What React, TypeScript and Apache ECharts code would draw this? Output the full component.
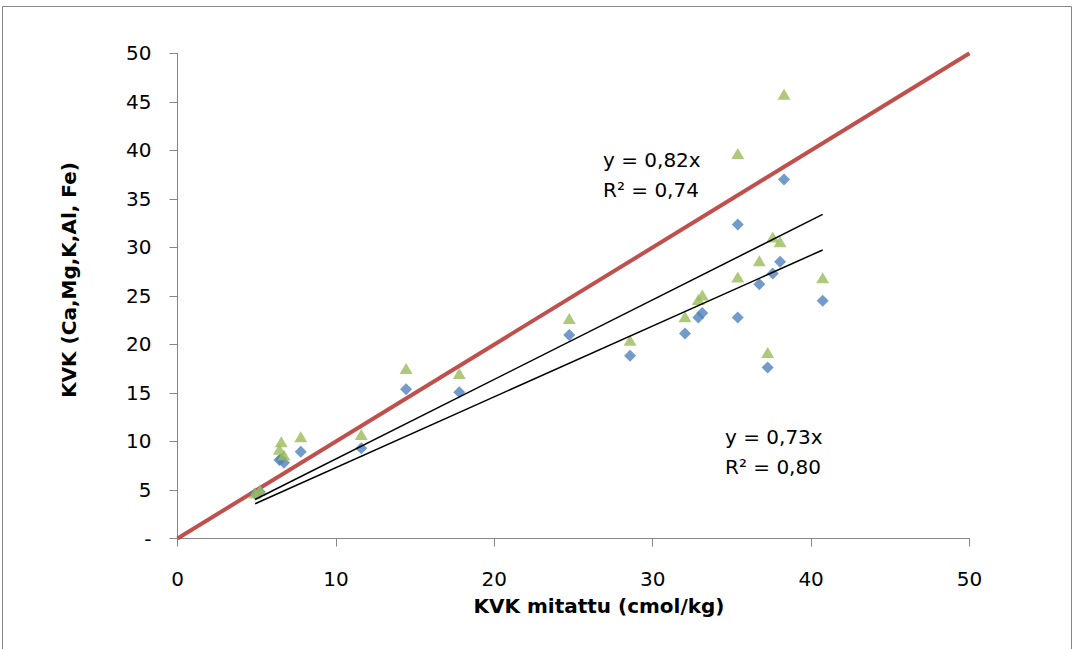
import React, { useEffect, useRef } from "react";
import * as echarts from "echarts";

// Measured CEC (x) shared by both series
const xMeasured = [4.9, 5.2, 6.43, 6.55, 6.72, 7.78, 11.6, 14.43, 17.79, 24.73, 28.57, 32.04, 32.88, 33.13, 35.37, 35.37, 36.73, 37.26, 37.58, 38.04, 38.29, 40.73];
// Series 1 (blue diamonds)
const yDiamond = [4.6, 4.8, 8.1, 8.2, 7.8, 8.94, 9.3, 15.37, 15.06, 20.96, 18.83, 21.13, 22.78, 23.25, 32.36, 22.78, 26.21, 17.63, 27.31, 28.51, 36.99, 24.49];
// Series 2 (green triangles)
const yTriangle = [4.7, 5.0, 9.19, 9.97, 8.6, 10.48, 10.73, 17.53, 17.01, 22.68, 20.44, 22.84, 24.63, 25.08, 39.67, 26.96, 28.61, 19.18, 31.08, 30.57, 45.78, 26.86];
// Trendline slopes (through origin)
const slopeTriangle = 0.82;
const slopeDiamond = 0.73;
const xTicks = [0, 10, 20, 30, 40, 50];
const yTicks = [0, 5, 10, 15, 20, 25, 30, 35, 40, 45, 50];
const eq1 = ["y = 0,82x", "R² = 0,74"];
const eq2 = ["y = 0,73x", "R² = 0,80"];
const xTitle = "KVK mitattu (cmol/kg)";
const yTitle = "KVK (Ca,Mg,K,Al, Fe)";

const FONT = "'DejaVu Sans', sans-serif";

export default function App() {
  const ref = useRef<HTMLDivElement>(null);
  useEffect(() => {
    if (!ref.current) return;
    const chart = echarts.init(ref.current, undefined, { renderer: "svg" });
    const xMin = Math.min(...xMeasured);
    const xMax = Math.max(...xMeasured);
    const diamonds = xMeasured.map((x, i) => [x, yDiamond[i]]);
    const triangles = xMeasured.map((x, i) => [x, yTriangle[i]]);
    const trendT = [[xMin, slopeTriangle * xMin], [xMax, slopeTriangle * xMax]];
    const trendD = [[xMin, slopeDiamond * xMin], [xMax, slopeDiamond * xMax]];
    const axisMin = xTicks[0];
    const axisMax = xTicks[xTicks.length - 1];
    const oneToOne = [[axisMin, axisMin], [axisMax, axisMax]];

    const labelText = (text: string, x: number, y: number) => ({
      type: "text",
      left: x,
      top: y,
      style: { text, font: `20px ${FONT}`, fill: "#000" },
      silent: true,
    });

    chart.setOption({
      animation: false,
      backgroundColor: "#fff",
      grid: { left: 177.5, right: 105.5, top: 53.3, bottom: 110.5 },
      xAxis: {
        type: "value",
        min: xTicks[0],
        max: xTicks[xTicks.length - 1],
        interval: 10,
        splitLine: { show: false },
        axisLine: { lineStyle: { color: "#868686", width: 1 } },
        axisTick: { show: true, length: 8, inside: false, lineStyle: { color: "#868686" } },
        axisLabel: { margin: 30, color: "#000", fontFamily: FONT, fontSize: 20 },
      },
      yAxis: {
        type: "value",
        min: yTicks[0],
        max: yTicks[yTicks.length - 1],
        interval: 5,
        splitLine: { show: false },
        axisLine: { show: true, lineStyle: { color: "#868686", width: 1 } },
        axisTick: { show: true, length: 8, inside: false, lineStyle: { color: "#868686" } },
        axisLabel: {
          margin: 26,
          color: "#000",
          fontFamily: FONT,
          fontSize: 20,
          formatter: (v: number) => (v === 0 ? "-" : String(v)),
        },
      },
      series: [
        {
          type: "line",
          data: oneToOne,
          symbol: "none",
          lineStyle: { color: "#C0504D", width: 4 },
          z: 1,
        },
        {
          type: "scatter",
          data: diamonds,
          symbol: "diamond",
          symbolSize: [12, 12],
          itemStyle: { color: "#4F81BD" },
          z: 2,
        },
        {
          type: "scatter",
          data: triangles,
          symbol: "triangle",
          symbolSize: [13, 11],
          itemStyle: { color: "#9BBB59" },
          z: 3,
        },
        {
          type: "line",
          data: trendT,
          symbol: "none",
          lineStyle: { color: "#000", width: 1.5 },
          z: 4,
        },
        {
          type: "line",
          data: trendD,
          symbol: "none",
          lineStyle: { color: "#000", width: 1.5 },
          z: 4,
        },
      ],
      graphic: [
        {
          type: "rect",
          shape: { x: 2.5, y: 6.5, width: 1069, height: 660 },
          style: { fill: "none", stroke: "#888", lineWidth: 1 },
          silent: true,
          z: -1,
        },
        labelText(eq1[0], 603, 150),
        labelText(eq1[1], 603, 180),
        labelText(eq2[0], 725, 427),
        labelText(eq2[1], 725, 457),
        {
          type: "text",
          x: 599,
          y: 606,
          style: {
            text: xTitle,
            font: `bold 20px ${FONT}`,
            fill: "#000",
            align: "center",
            verticalAlign: "middle",
          },
          silent: true,
        },
        {
          type: "text",
          x: 69,
          y: 280,
          rotation: Math.PI / 2,
          style: {
            text: yTitle,
            font: `bold 20px ${FONT}`,
            fill: "#000",
            align: "center",
            verticalAlign: "middle",
          },
          silent: true,
        },
      ],
    });
    return () => chart.dispose();
  }, []);
  return (
    <div
      ref={ref}
      style={{ position: "fixed", left: 0, top: 0, width: 1075, height: 649 }}
    />
  );
}
